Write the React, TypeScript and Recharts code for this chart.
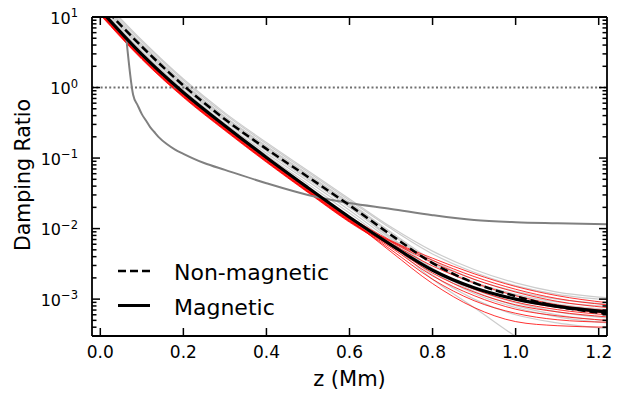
import React from "react";
import { LineChart, Line, XAxis, YAxis, ReferenceLine, Legend } from "recharts";

const FONT = '"DejaVu Sans", "Liberation Sans", sans-serif';

const W = 625;
const H = 394;
// plot frame in page pixels
const PLOT = { left: 92, top: 17, right: 607, bottom: 336 };

// height grid in Mm shared by the mean curves and every ensemble run
const zGrid = [0, 0.1, 0.2, 0.3, 0.4, 0.5, 0.6, 0.7, 0.8, 0.9, 1.0, 1.1, 1.22];

const magnetic = [12.6, 2.95, 0.851, 0.288, 0.102, 0.038, 0.0145, 0.00589, 0.00257, 0.00145, 0.001, 0.00079, 0.00066];
const nonMagnetic = [15.5, 3.8, 1.07, 0.355, 0.135, 0.054, 0.0214, 0.00813, 0.00324, 0.0017, 0.0011, 0.00079, 0.00062];

// magnetic runs (red)
const red1 = [12.9, 3.02, 0.871, 0.295, 0.105, 0.0389, 0.0148, 0.00676, 0.0038, 0.00229, 0.00151, 0.00112, 0.00089];
const red2 = [12.0, 2.82, 0.813, 0.275, 0.0977, 0.0363, 0.0138, 0.00661, 0.00355, 0.00209, 0.00138, 0.00102, 0.00083];
const red3 = [11.7, 2.75, 0.794, 0.269, 0.0955, 0.0355, 0.0135, 0.00646, 0.00331, 0.00191, 0.00126, 0.00093, 0.00076];
const red4 = [11.5, 2.69, 0.776, 0.263, 0.0933, 0.0347, 0.0132, 0.00617, 0.00295, 0.0017, 0.00112, 0.00083, 0.00069];
const red5 = [11.2, 2.63, 0.759, 0.257, 0.0912, 0.0339, 0.0129, 0.00589, 0.00263, 0.00145, 0.00098, 0.00076, 0.00063];
const red6 = [11.0, 2.57, 0.741, 0.251, 0.0891, 0.0331, 0.0126, 0.00562, 0.00234, 0.00126, 0.00083, 0.00066, 0.00056];
const red7 = [10.7, 2.51, 0.724, 0.245, 0.0871, 0.0324, 0.0123, 0.00537, 0.00214, 0.00112, 0.00072, 0.00058, 0.0005];
const red8 = [11.2, 2.63, 0.759, 0.257, 0.0912, 0.0339, 0.0129, 0.00501, 0.00191, 0.00095, 0.00063, 0.00051, 0.00047];
const red9 = [11.7, 2.75, 0.794, 0.269, 0.0955, 0.0355, 0.0135, 0.00468, 0.00166, 0.00076, 0.00048, 0.00042, 0.0004];
const red10 = [11.0, 2.57, 0.741, 0.251, 0.0891, 0.0331, 0.0126, 0.00575, 0.00251, 0.00138, 0.00091, 0.00071, 0.0006];

// non-magnetic runs (light grey)
const grey1 = [19.1, 4.68, 1.32, 0.437, 0.166, 0.0661, 0.0263, 0.0105, 0.00479, 0.00263, 0.0017, 0.00126, 0.00105];
const grey2 = [17.0, 4.17, 1.17, 0.389, 0.148, 0.0589, 0.0234, 0.00891, 0.00355, 0.00191, 0.00129, 0.001, 0.00085];
const grey3 = [16.2, 3.98, 1.12, 0.372, 0.141, 0.0562, 0.0224, 0.00832, 0.00316, 0.00166, 0.00112, 0.00085, 0.00071];
const grey4 = [15.5, 3.8, 1.07, 0.355, 0.135, 0.0537, 0.0214, 0.00759, 0.00275, 0.00138, 0.00089, 0.00066, 0.00054];
const grey5 = [14.5, 3.55, 1.0, 0.331, 0.126, 0.0501, 0.02, 0.00708, 0.00251, 0.0012, 0.00076, 0.00056, 0.00046];
const grey6 = [13.5, 3.31, 0.933, 0.309, 0.117, 0.0468, 0.0182, 0.00661, 0.00219, 0.001, 0.0006, 0.00046, 0.00038];
const grey7 = [12.9, 3.16, 0.891, 0.295, 0.11, 0.0427, 0.0166, 0.00603, 0.00191, 0.00076, 0.000295, 0.000126, 0.00005];
const grey8 = [16.6, 4.07, 1.15, 0.38, 0.145, 0.0575, 0.0229, 0.00851, 0.00331, 0.00174, 0.00117, 0.00091, 0.00079];
const grey9 = [14.8, 3.63, 1.02, 0.339, 0.129, 0.0513, 0.02, 0.00741, 0.00263, 0.00129, 0.00081, 0.0006, 0.00049];
const grey10 = [18.2, 4.47, 1.26, 0.417, 0.158, 0.0631, 0.0251, 0.01, 0.00437, 0.0024, 0.00155, 0.00117, 0.00098];

const redRuns = [red1, red2, red3, red4, red5, red6, red7, red8, red9, red10];
const greyRuns = [grey1, grey2, grey3, grey4, grey5, grey6, grey7, grey8, grey9, grey10];

// the dark grey curve starts higher up and has its own sampling
const refZ = [0.0625, 0.079, 0.09, 0.1, 0.11, 0.12, 0.13, 0.14, 0.16, 0.18, 0.2, 0.25, 0.3, 0.4, 0.5, 0.6, 0.7, 0.8, 0.9, 1.0, 1.1, 1.22];
const refRatio = [5.1, 0.79, 0.56, 0.42, 0.34, 0.275, 0.234, 0.2, 0.158, 0.132, 0.115, 0.085, 0.068, 0.044, 0.03, 0.023, 0.019, 0.0155, 0.0132, 0.0123, 0.0119, 0.0115];

const xTicks = [0, 0.2, 0.4, 0.6, 0.8, 1.0, 1.2];
const yDecades = [1e-3, 1e-2, 1e-1, 1, 10];
const yMinor = [
  4e-4, 5e-4, 6e-4, 7e-4, 8e-4, 9e-4,
  2e-3, 3e-3, 4e-3, 5e-3, 6e-3, 7e-3, 8e-3, 9e-3,
  2e-2, 3e-2, 4e-2, 5e-2, 6e-2, 7e-2, 8e-2, 9e-2,
  0.2, 0.3, 0.4, 0.5, 0.6, 0.7, 0.8, 0.9,
  2, 3, 4, 5, 6, 7, 8, 9,
];
const yTicks = [...yMinor, ...yDecades].sort((a, b) => a - b);

const rows = zGrid.map((z, i) => {
  const row: Record<string, number> = { z, mag: magnetic[i], non: nonMagnetic[i] };
  redRuns.forEach((r, k) => (row["r" + k] = r[i]));
  greyRuns.forEach((g, k) => (row["g" + k] = g[i]));
  return row;
});
const refRows = refZ.map((z, i) => ({ z, ref: refRatio[i] }));

const isDecade = (v: number) => Math.abs(Math.log10(v) - Math.round(Math.log10(v))) < 1e-6;

const MAJOR = 8;
const MINOR = 4.5;
const TICK_W = 1.5;

function LeftTick(props: any) {
  const { y, payload } = props;
  const v = payload.value;
  const major = isDecade(v);
  const exp = Math.round(Math.log10(v));
  return (
    <g>
      <line x1={PLOT.left} x2={PLOT.left + (major ? MAJOR : MINOR)} y1={y} y2={y} stroke="#000" strokeWidth={TICK_W} />
      {major && (
        <text x={PLOT.left - 14} y={y + 6.5} textAnchor="end" fontFamily={FONT} fontSize={16} fill="#000">
          <tspan>10</tspan>
          <tspan dy={-6.5} fontSize={11.5}>{exp < 0 ? "\u2212" + Math.abs(exp) : String(exp)}</tspan>
        </text>
      )}
    </g>
  );
}

function RightTick(props: any) {
  const { y, payload } = props;
  const major = isDecade(payload.value);
  return (
    <line x1={PLOT.right} x2={PLOT.right - (major ? MAJOR : MINOR)} y1={y} y2={y} stroke="#000" strokeWidth={TICK_W} />
  );
}

function BottomTick(props: any) {
  const { x, payload } = props;
  return (
    <g>
      <line x1={x} x2={x} y1={PLOT.bottom} y2={PLOT.bottom - MAJOR} stroke="#000" strokeWidth={TICK_W} />
      <text x={x} y={PLOT.bottom + 22} textAnchor="middle" fontFamily={FONT} fontSize={17} fill="#000">
        {payload.value.toFixed(1)}
      </text>
    </g>
  );
}

function TopTick(props: any) {
  const { x } = props;
  return <line x1={x} x2={x} y1={PLOT.top} y2={PLOT.top + MAJOR} stroke="#000" strokeWidth={TICK_W} />;
}

function LegendBox() {
  return (
    <svg width={240} height={70} style={{ display: "block" }}>
      <line x1={8} x2={40} y1={16} y2={16} stroke="#000" strokeWidth={2.5} strokeDasharray="8 4" />
      <text x={64} y={25} fontFamily={FONT} fontSize={22} fill="#000">Non-magnetic</text>
      <line x1={8} x2={40} y1={50.5} y2={50.5} stroke="#000" strokeWidth={3} />
      <text x={64} y={60} fontFamily={FONT} fontSize={22} fill="#000">Magnetic</text>
    </svg>
  );
}

const axisLine = { stroke: "#000", strokeWidth: 1.8 };

export default function App() {
  return (
    <div style={{ position: "absolute", left: 0, top: 0, width: W, height: H, background: "#fff" }}>
      <LineChart
        width={W}
        height={H}
        data={rows}
        margin={{ top: PLOT.top - 10, right: W - PLOT.right - 10, bottom: H - PLOT.bottom - 30, left: PLOT.left - 62 }}
      >
        <XAxis
          dataKey="z"
          type="number"
          domain={[-0.02, 1.22]}
          ticks={xTicks}
          interval={0}
          height={30}
          tickSize={0}
          tickMargin={0}
          tickLine={false}
          axisLine={axisLine}
          tick={<BottomTick />}
        />
        <XAxis
          xAxisId="t"
          orientation="top"
          dataKey="z"
          type="number"
          domain={[-0.02, 1.22]}
          ticks={xTicks}
          interval={0}
          height={10}
          tickSize={0}
          tickMargin={0}
          tickLine={false}
          axisLine={axisLine}
          tick={<TopTick />}
        />
        <YAxis
          type="number"
          scale="log"
          domain={[3e-4, 10]}
          allowDataOverflow
          ticks={yTicks}
          interval={0}
          width={62}
          tickSize={0}
          tickMargin={0}
          tickLine={false}
          axisLine={axisLine}
          tick={<LeftTick />}
        />
        <YAxis
          yAxisId="r"
          orientation="right"
          type="number"
          scale="log"
          domain={[3e-4, 10]}
          allowDataOverflow
          ticks={yTicks}
          interval={0}
          width={10}
          tickSize={0}
          tickMargin={0}
          tickLine={false}
          axisLine={axisLine}
          tick={<RightTick />}
        />

        {greyRuns.map((_, k) => (
          <Line
            key={"g" + k}
            dataKey={"g" + k}
            type="monotone"
            stroke="#cccccc"
            strokeWidth={1.2}
            dot={false}
            activeDot={false}
            isAnimationActive={false}
          />
        ))}
        {redRuns.map((_, k) => (
          <Line
            key={"r" + k}
            dataKey={"r" + k}
            type="monotone"
            stroke="#ff0000"
            strokeWidth={0.8}
            dot={false}
            activeDot={false}
            isAnimationActive={false}
          />
        ))}

        <ReferenceLine y={1} stroke="#707070" strokeWidth={2} strokeDasharray="2 2.3" />

        <Line
          data={refRows}
          dataKey="ref"
          type="monotone"
          stroke="#808080"
          strokeWidth={2}
          dot={false}
          activeDot={false}
          isAnimationActive={false}
        />
        <Line
          dataKey="non"
          type="monotone"
          stroke="#000"
          strokeWidth={2.5}
          strokeDasharray="8 4"
          dot={false}
          activeDot={false}
          isAnimationActive={false}
        />
        <Line
          dataKey="mag"
          type="monotone"
          stroke="#000"
          strokeWidth={3.2}
          dot={false}
          activeDot={false}
          isAnimationActive={false}
        />

        <Legend
          layout="horizontal"
          verticalAlign="middle"
          align="center"
          wrapperStyle={{ position: "absolute", left: 110, top: 255, width: 240, height: 70 }}
          content={() => <LegendBox />}
        />

        <text x={(PLOT.left + PLOT.right) / 2} y={386} textAnchor="middle" fontFamily={FONT} fontSize={21} fill="#000">
          z (Mm)
        </text>
        <text
          x={29.5}
          y={175}
          transform="rotate(-90 29.5 175)"
          textAnchor="middle"
          fontFamily={FONT}
          fontSize={20.5}
          fill="#000"
        >
          Damping Ratio
        </text>
      </LineChart>
    </div>
  );
}
